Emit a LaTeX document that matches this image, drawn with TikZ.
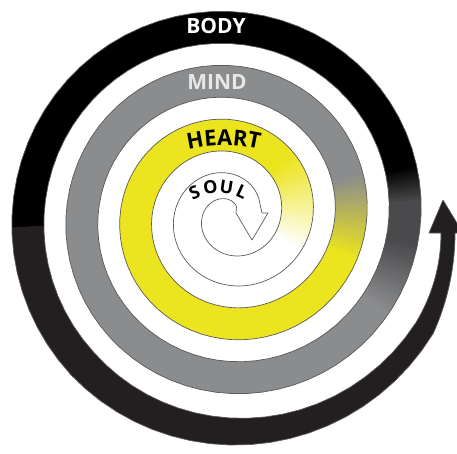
\documentclass[tikz,border=0pt]{standalone}
\usepackage{fontspec}
\setmainfont{Open Sans}
\usetikzlibrary{decorations.text}

\definecolor{heartyellow}{HTML}{ECE41E}
\definecolor{mindgray}{HTML}{8B8C8E}
\definecolor{deepgray}{HTML}{4A4A4C}
\definecolor{tailblack}{HTML}{231F20}
\definecolor{rimgray}{HTML}{5A5A5A}
\definecolor{mindtext}{HTML}{E8E8E8}

\tikzset{
    declare function={ro(\t)=83+0.15*\t; ri(\t)=51+0.15*\t; rs(\t)=51+0.13*\t;
                      rc(\t)=67+0.15*\t; hw(\t)=16-(\t-945)/18;},
    ribbon/.style={line width=40pt, line cap=butt},
    rim/.style={draw=rimgray, line width=0.7pt, line join=round},
    bandlabel/.style={font=\bfseries\fontsize{21}{21}\selectfont, inner sep=0pt},
    soulletter/.style={font=\bfseries\fontsize{18}{18}\selectfont, inner sep=0pt},
}

% the whole spiral band, spiral centre at the origin
\newcommand{\spiralband}{(38,3) -- (32,3)
    -- plot[domain=-338:945, samples=258] (\x:{ro(\x)})
    -- plot[domain=945:1050, samples=22] (\x:{rc(\x)+hw(\x)})
    .. controls (218,-85) and (225,-50) .. (225,-17)
    -- (233,-17) -- (213,16) -- (199,-17) -- (211,-17)
    .. controls (211,-50) and (202,-80) .. (185.6,-107.2)
    -- plot[domain=1050:945, samples=22] (\x:{rc(\x)-hw(\x)})
    -- plot[domain=945:0, samples=190] (\x:{ri(\x)})
    -- plot[domain=0:-305, samples=62] (\x:{rs(\x)})
    -- (6,3) -- (22,-24) -- cycle}

\begin{document}
\begin{tikzpicture}[x=1pt, y=1pt]
    \useasboundingbox (-230,-237) rectangle (227,216);
    \clip (-230,-237) rectangle (227,216);
    \fill[white] (-230,-237) rectangle (227,216);

    \begin{scope}
        \clip \spiralband;
        % soul -> heart
        \foreach \a in {-25,-24,...,44}{
            \pgfmathsetmacro\m{(\a+25)*100/70}
            \pgfmathsetmacro\b{\a+1.6}
            \draw[ribbon, heartyellow!\m!white] plot[domain=\a:\b, samples=2] (\x:{rc(\x)});
        }
        \draw[ribbon, heartyellow] plot[domain=45:342, samples=60] (\x:{rc(\x)});
        % heart -> mind
        \foreach \a in {341,342,...,377}{
            \pgfmathsetmacro\m{(\a-341)*100/37}
            \pgfmathsetmacro\b{\a+1.6}
            \draw[ribbon, mindgray!\m!heartyellow] plot[domain=\a:\b, samples=2] (\x:{rc(\x)});
        }
        \draw[ribbon, mindgray] plot[domain=378:689, samples=64] (\x:{rc(\x)});
        % mind -> body
        \foreach \a in {688,689,...,711}{
            \pgfmathsetmacro\m{(\a-688)*100/23}
            \pgfmathsetmacro\b{\a+1.6}
            \draw[ribbon, deepgray!\m!mindgray] plot[domain=\a:\b, samples=2] (\x:{rc(\x)});
        }
        \draw[ribbon, deepgray] plot[domain=711:725, samples=4] (\x:{rc(\x)});
        \foreach \a in {724,725,...,735}{
            \pgfmathsetmacro\m{(\a-724)*100/11}
            \pgfmathsetmacro\b{\a+1.6}
            \draw[ribbon, black!\m!deepgray] plot[domain=\a:\b, samples=2] (\x:{rc(\x)});
        }
        \draw[ribbon, black] plot[domain=736:905, samples=36] (\x:{rc(\x)});
        % tail
        \draw[ribbon, tailblack] plot[domain=903:1050, samples=30] (\x:{rc(\x)})
            .. controls (210,-82) and (218,-50) .. (218,-17) -- (218,25);
    \end{scope}
    \draw[rim] \spiralband;

    \node[bandlabel, white] (body) at (-14,190.5) {BODY};
    \node[bandlabel, mindtext] (mind) at (-13,133.5) {MIND};
    \path[decorate, decoration={text along path, text align=center,
        text={|\bfseries\fontsize{22}{22}\selectfont|HEART}}]
        (-81.3,50.6) arc[start angle=120, end angle=60, radius=150];
    \foreach \ch/\ang in {S/114.5, O/97.6, U/81.3, L/65.3}
        \node[soulletter, rotate=\ang-90] (soul\ch) at ([shift={(-12,-28)}]\ang:57) {\ch};
\end{tikzpicture}
\end{document}
